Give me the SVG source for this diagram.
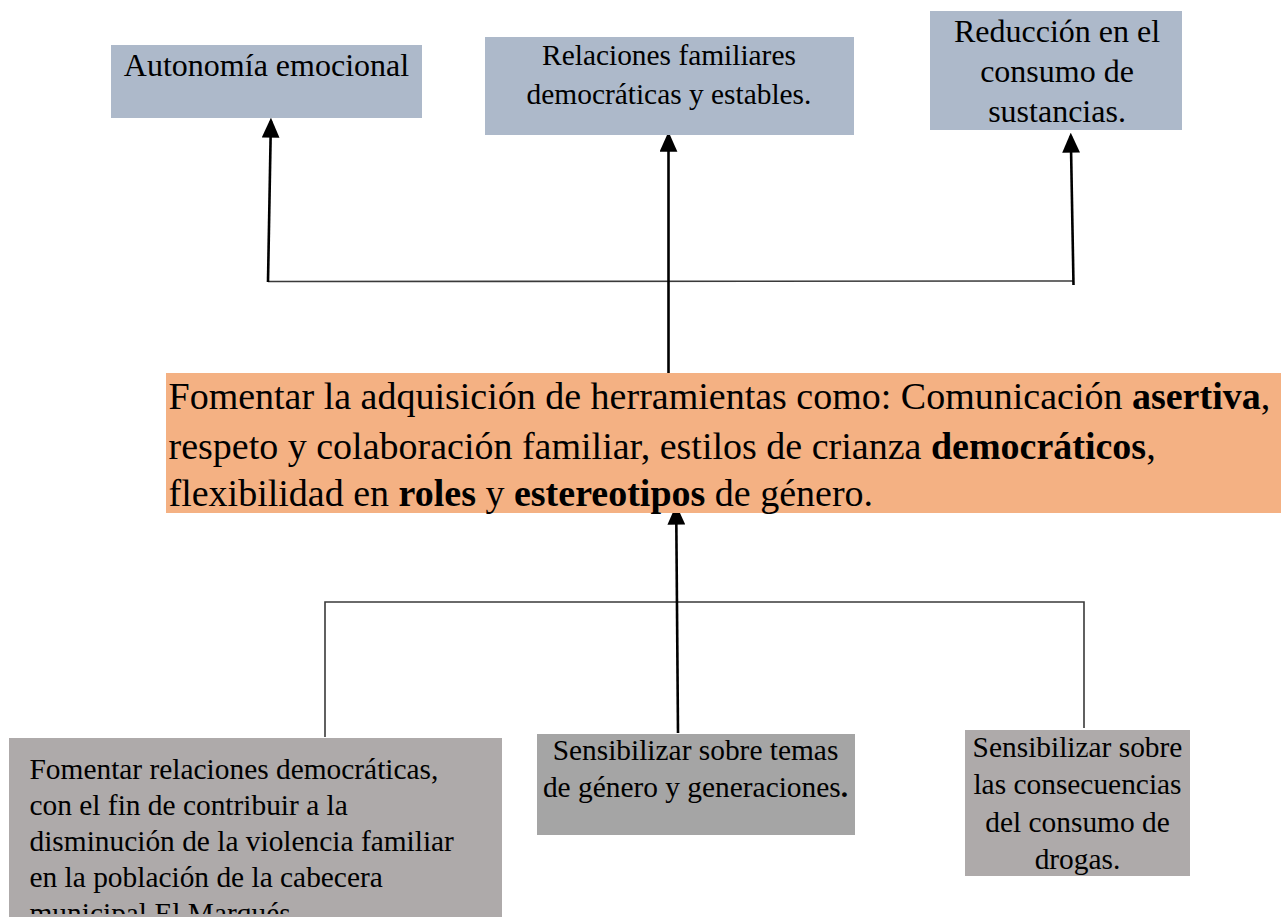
<svg xmlns="http://www.w3.org/2000/svg" width="1281" height="917" viewBox="0 0 1281 917">
<style>
text{font-family:"Liberation Serif","Times New Roman",serif;fill:#000}
.t32{font-size:32px}
.t29{font-size:29.4px}
.t38{font-size:38px}
.c{text-anchor:middle}
.b{font-weight:bold}
.blue{fill:#adb9ca}
.orange{fill:#f4b183}
.grey{fill:#aeaaaa}
.grey2{fill:#a5a5a5}
.arr{stroke:#000;stroke-width:2.6;fill:none;marker-end:url(#ah)}
.ln{stroke:#3a3a3a;stroke-width:1.6;fill:none}
</style>
<defs>
<marker id="ah" markerUnits="userSpaceOnUse" markerWidth="20" markerHeight="18" refX="15" refY="8" orient="auto" viewBox="0 0 18 16">
<path d="M0,0 L18,8 L0,16 z" fill="#000"/>
</marker>
<clipPath id="clipB1"><rect x="9" y="738" width="493" height="176"/></clipPath>
</defs>
<rect width="1281" height="917" fill="#fff"/>

<g id="connectors">
<polyline class="ln" points="268,281.5 1073,281"/>
<path class="arr" d="M268,282 L270.9,121"/>
<path class="arr" d="M668.5,375 L668.5,135"/>
<path class="arr" d="M1073.5,285 L1070.8,136"/>
<polyline class="ln" points="325,737 325,602 1084,602 1084,728"/>
<path class="arr" d="M678,733 L676.2,508"/>
</g>

<g id="n-autonomia">
<rect class="blue" x="111" y="45" width="311" height="73"/>
<text class="t32 c" x="266.5" y="76">Autonomía emocional</text>
</g>
<g id="n-relaciones">
<rect class="blue" x="485" y="37" width="369" height="98"/>
<text class="t29 c" x="669" y="65">Relaciones familiares</text>
<text class="t29 c" x="669" y="104">democráticas y estables.</text>
</g>
<g id="n-reduccion">
<rect class="blue" x="930" y="11" width="252" height="119"/>
<text class="t32 c" x="1057" y="41.5">Reducción en el</text>
<text class="t32 c" x="1057" y="82">consumo de</text>
<text class="t32 c" x="1057" y="121.5">sustancias.</text>
</g>
<g id="n-fomentar">
<rect class="orange" x="166" y="373" width="1115" height="140"/>
<text class="t38" x="168.5" y="408.5">Fomentar la adquisición de herramientas como: Comunicación <tspan class="b">asertiva</tspan>,</text>
<text class="t38" x="168.5" y="458.5">respeto y colaboración familiar, estilos de crianza <tspan class="b">democráticos</tspan>,</text>
<text class="t38" x="168.5" y="505.5">flexibilidad en <tspan class="b">roles</tspan> y <tspan class="b">estereotipos</tspan> de género.</text>
</g>
<g id="n-relaciones-democraticas">
<rect class="grey" x="9" y="738" width="493" height="179"/>
<g clip-path="url(#clipB1)">
<text class="t29" x="29.5" y="778.5">Fomentar relaciones democráticas,</text>
<text class="t29" x="29.5" y="814.5">con el fin de contribuir a la</text>
<text class="t29" x="29.5" y="850.5">disminución de la violencia familiar</text>
<text class="t29" x="29.5" y="887">en la población de la cabecera</text>
<text class="t29" x="29.5" y="923">municipal El Marqués.</text>
</g>
</g>
<g id="n-genero">
<rect class="grey2" x="537" y="734" width="318" height="101"/>
<text class="t29 c" x="695.5" y="760">Sensibilizar sobre temas</text>
<text class="t29 c" x="695.5" y="797">de género y generaciones<tspan class="b">.</tspan></text>
</g>
<g id="n-drogas">
<rect class="grey" x="965" y="730" width="225" height="146"/>
<text class="t29 c" x="1077.5" y="756.5">Sensibilizar sobre</text>
<text class="t29 c" x="1077.5" y="794">las consecuencias</text>
<text class="t29 c" x="1077.5" y="831.5">del consumo de</text>
<text class="t29 c" x="1077.5" y="869">drogas.</text>
</g>
</svg>
